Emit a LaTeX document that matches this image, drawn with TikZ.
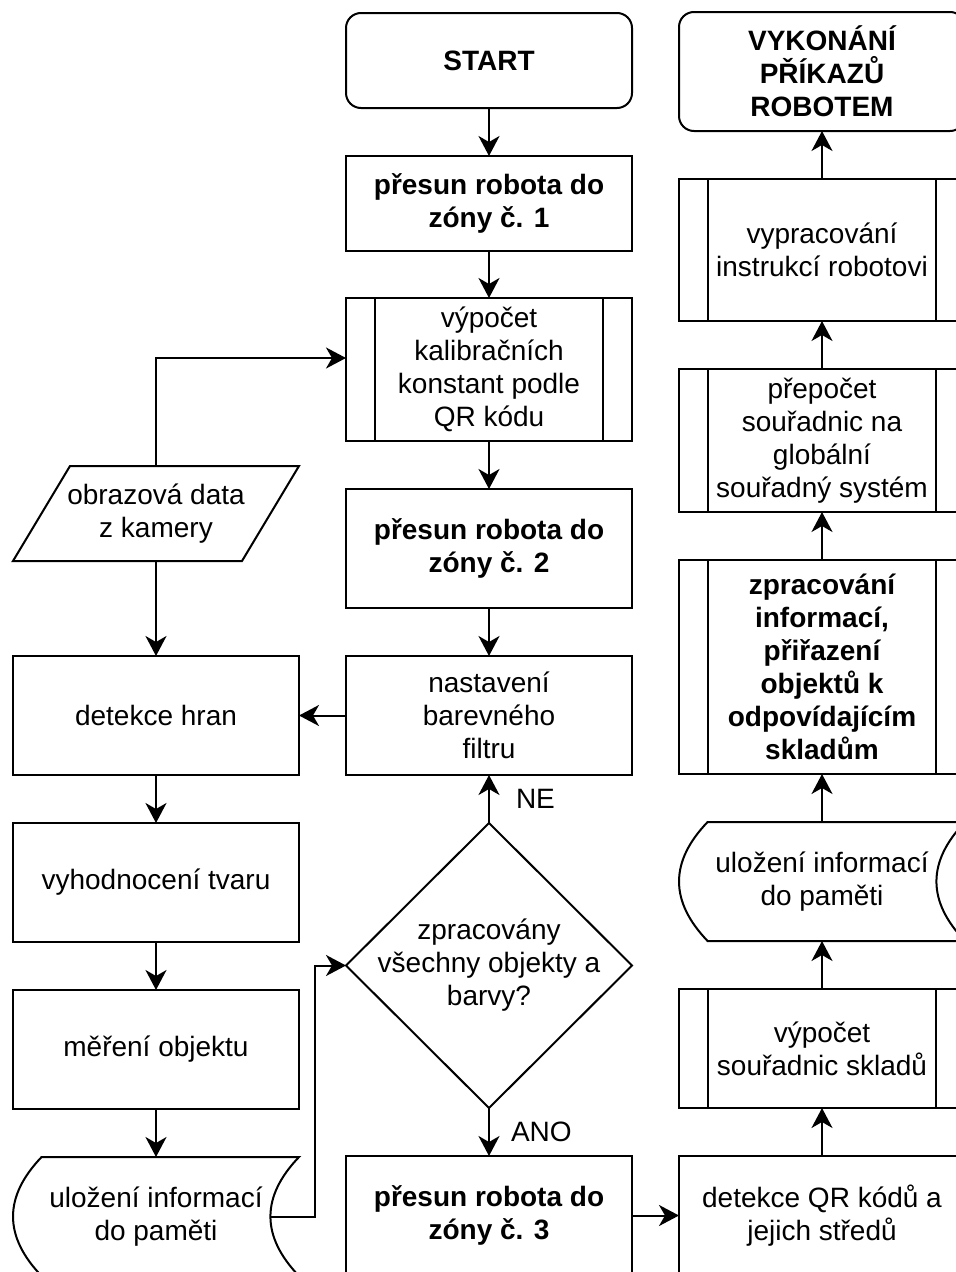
\documentclass[tikz,border=0pt]{standalone}
\usepackage{fontspec}
\setmainfont{Liberation Sans}
\usetikzlibrary{arrows.meta,positioning,shapes.geometric}

% outline of a stored data shape (curved left and right sides)
\newcommand{\storeoutline}[1]{%
  \draw ([xshift=28.6pt]#1.north west) -- (#1.north east)
    .. controls ([xshift=-38.1pt,yshift=-39.7pt]#1.north east) and ([xshift=-38.1pt,yshift=39.7pt]#1.south east) .. (#1.south east)
    -- ([xshift=28.6pt]#1.south west)
    .. controls ([xshift=-9.5pt,yshift=39.7pt]#1.south west) and ([xshift=-9.5pt,yshift=-39.7pt]#1.north west) .. cycle;}
% outline of an input shape (parallelogram)
\newcommand{\iooutline}[1]{%
  \draw ([xshift=57pt]#1.north west) -- (#1.north east) -- ([xshift=-57pt]#1.south east) -- (#1.south west) -- cycle;}

\begin{document}
\begin{tikzpicture}[x=1pt, y=-1pt, line width=2pt,
  >={Stealth[length=20pt,width=21pt,inset=6pt]}, node distance=48pt and 47pt,
  box/.style={draw, align=center, inner sep=0pt, outer sep=0pt, minimum width=286pt, minimum height=#1, font=\fontsize{28}{33}\selectfont},
  box/.default=119pt,
  term/.style={box=#1, rounded corners=15pt},
  term/.default=95pt,
  bold/.style={font=\fontsize{28}{33}\selectfont\bfseries},
  subproc/.style={box=#1, path picture={
    \draw ([xshift=29pt]path picture bounding box.north west) -- ([xshift=29pt]path picture bounding box.south west)
          ([xshift=-29pt]path picture bounding box.north east) -- ([xshift=-29pt]path picture bounding box.south east);}},
  subproc/.default=143pt,
  store/.style={box=119pt, draw=none},
  io/.style={box=95pt, draw=none},
  dec/.style={draw, shape=diamond, aspect=1, inner sep=-15pt, outer sep=0pt, minimum width=286pt, minimum height=285pt, align=center, font=\fontsize{28}{33}\selectfont},
  lbl/.style={inner sep=0pt, font=\fontsize{28}{33}\selectfont}]
\useasboundingbox (0,0) rectangle (956,1272);
\clip (0,0) rectangle (956,1272);
% middle column
\node[term, bold] (start) at (489,60.5) {START};
\node[box=95pt, bold, below=of start] (zona1) {přesun robota do\\zóny č. 1};
\node[subproc, below=47pt of zona1] (kalib) {výpočet\\kalibračních\\konstant podle\\QR kódu};
\node[box, bold, below=of kalib] (zona2) {přesun robota do\\zóny č. 2};
\node[box, below=of zona2] (filtr) {nastavení\\barevného\\filtru};
\node[dec, below=of filtr] (hotovo) {zpracovány\\všechny objekty a\\barvy?};
\node[box, bold, below=of hotovo] (zona3) {přesun robota do\\zóny č. 3};
% left column
\node[box, left=of filtr] (hrany) {detekce hran};
\node[io, above=95pt of hrany] (kamera) {obrazová data\\z kamery};
\iooutline{kamera}
\node[box, below=of hrany] (tvar) {vyhodnocení tvaru};
\node[box, below=of tvar] (mereni) {měření objektu};
\node[store, below=of mereni] (pamet1) {uložení informací\\do paměti};
\storeoutline{pamet1}
% right column
\node[box, right=of zona3] (qr) {detekce QR kódů a\\jejich středů};
\node[subproc=119pt, above=of qr] (sklady) {výpočet\\souřadnic skladů};
\node[store, above=of sklady] (pamet2) {uložení informací\\do paměti};
\storeoutline{pamet2}
\node[subproc=214pt, bold, above=of pamet2] (prirazeni) {zpracování\\informací,\\přiřazení\\objektů k\\odpovídajícím\\skladům};
\node[subproc, above=of prirazeni] (prepocet) {přepočet\\souřadnic na\\globální\\souřadný systém};
\node[subproc=142pt, above=of prepocet] (instrukce) {vypracování\\instrukcí robotovi};
\node[term=119pt, bold, above=of instrukce] (konec) {VYKONÁNÍ\\PŘÍKAZŮ\\ROBOTEM};
% connectors
\draw[->] (start) -- (zona1);
\draw[->] (zona1) -- (kalib);
\draw[->] (kalib) -- (zona2);
\draw[->] (zona2) -- (filtr);
\draw[->] (filtr) -- (hrany);
\draw[->] (hotovo) -- node[lbl, right=26pt] {NE} (filtr);
\draw[->] (hotovo) -- node[lbl, right=21pt] {ANO} (zona3);
\draw[->] (kamera.north) |- ([yshift=11.5pt]kalib.west);
\draw[->] (kamera) -- (hrany);
\draw[->] (hrany) -- (tvar);
\draw[->] (tvar) -- (mereni);
\draw[->] (mereni) -- (pamet1);
\draw[->] ([xshift=-28.6pt]pamet1.east) -- ++(45,0) |- (hotovo.west);
\draw[->] (zona3) -- (qr);
\draw[->] (qr) -- (sklady);
\draw[->] (sklady) -- (pamet2);
\draw[->] (pamet2) -- (prirazeni);
\draw[->] (prirazeni) -- (prepocet);
\draw[->] (prepocet) -- (instrukce);
\draw[->] (instrukce) -- (konec);
\end{tikzpicture}
\end{document}
